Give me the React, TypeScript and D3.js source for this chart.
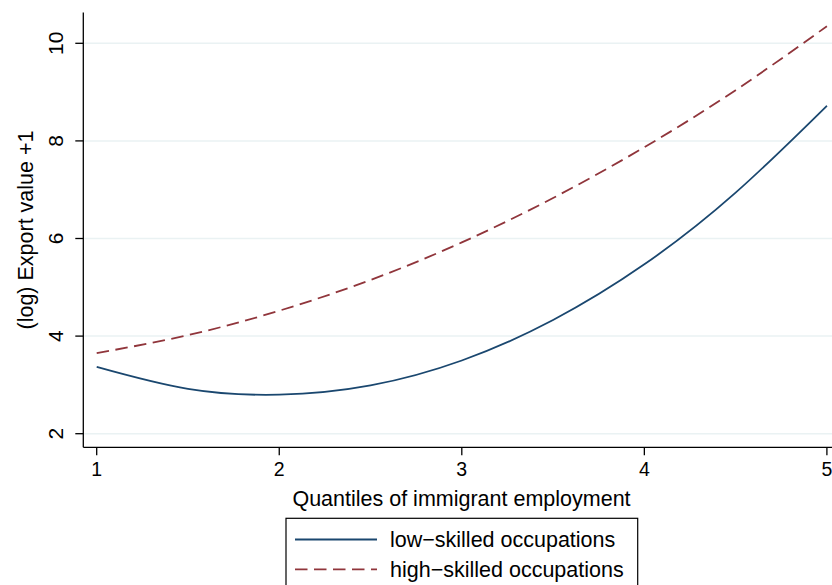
import React from "react";
import * as d3 from "d3";

// Quantiles of immigrant employment (x) and predicted (log) export value +1
const quantiles = [1, 1.5, 2, 2.5, 3, 3.5, 4, 4.5, 5];
const lowSkilled = [3.37, 2.92, 2.8, 2.99, 3.5, 4.33, 5.47, 6.94, 8.72];
const highSkilled = [3.65, 4.02, 4.52, 5.15, 5.92, 6.83, 7.87, 9.04, 10.35];
const xTicks = [1, 2, 3, 4, 5];
const yTicks = [2, 4, 6, 8, 10];
const seriesNames = ["low\u2212skilled occupations", "high\u2212skilled occupations"];

const W = 832;
const H = 585;
const FONT = "'Liberation Sans', Arial, Helvetica, sans-serif";
const NAVY = "#1a476f";
const MAROON = "#90353b";
const DASH = "12.5 6.5";

export default function App() {
  const x = d3.scaleLinear().domain([1, 5]).range([96.7, 826.9]);
  const y = d3.scaleLinear().domain([2, 10]).range([433.7, 43.3]);
  const plotLeft = 83.3;
  const plotBottom = 447.3;
  const plotTop = 12.5;
  const plotRight = 832;

  const line = d3
    .line<[number, number]>()
    .x((d) => x(d[0]))
    .y((d) => y(d[1]))
    .curve(d3.curveNatural);

  const lowData = quantiles.map((q, i) => [q, lowSkilled[i]] as [number, number]);
  const highData = quantiles.map((q, i) => [q, highSkilled[i]] as [number, number]);

  const legendY = [539.5, 569.3];
  const styles = [
    { color: NAVY, dash: undefined as string | undefined },
    { color: MAROON, dash: DASH },
  ];

  return (
    <svg
      width={W}
      height={H}
      style={{ position: "absolute", left: 0, top: 0, background: "#fff" }}
      fontFamily={FONT}
    >
      <rect x={0} y={0} width={W} height={H} fill="#fff" />
      {/* gridlines */}
      {yTicks.map((t) => (
        <line
          key={"g" + t}
          x1={plotLeft + 1}
          x2={plotRight}
          y1={y(t)}
          y2={y(t)}
          stroke="#eaf2f3"
          strokeWidth={1.5}
        />
      ))}
      {/* y axis */}
      <line x1={plotLeft} x2={plotLeft} y1={plotTop} y2={plotBottom} stroke="#000" strokeWidth={1.3} />
      {yTicks.map((t) => (
        <g key={"y" + t}>
          <line x1={plotLeft - 8} x2={plotLeft} y1={y(t)} y2={y(t)} stroke="#000" strokeWidth={1.3} />
          <text
            transform={`translate(${63.3},${y(t)}) rotate(-90)`}
            textAnchor="middle"
            fontSize={21}
            fill="#000"
          >
            {t}
          </text>
        </g>
      ))}
      <text
        transform={`translate(${32.5},${230}) rotate(-90)`}
        textAnchor="middle"
        fontSize={21.5}
        fill="#000"
      >
        (log) Export value +1
      </text>
      {/* x axis */}
      <line x1={plotLeft} x2={plotRight} y1={plotBottom} y2={plotBottom} stroke="#000" strokeWidth={1.3} />
      {xTicks.map((t) => (
        <g key={"x" + t}>
          <line x1={x(t)} x2={x(t)} y1={plotBottom} y2={plotBottom + 8} stroke="#000" strokeWidth={1.3} />
          <text x={x(t)} y={476} textAnchor="middle" fontSize={19.5} fill="#000">
            {t}
          </text>
        </g>
      ))}
      <text x={461.5} y={505.7} textAnchor="middle" fontSize={21.5} fill="#000">
        Quantiles of immigrant employment
      </text>
      {/* curves */}
      <path d={line(lowData) ?? ""} fill="none" stroke={NAVY} strokeWidth={1.8} />
      <path d={line(highData) ?? ""} fill="none" stroke={MAROON} strokeWidth={1.8} strokeDasharray={DASH} />
      {/* legend */}
      <rect x={286} y={518.3} width={351.7} height={80} fill="#fff" stroke="#000" strokeWidth={1.2} />
      {seriesNames.map((name, i) => (
        <g key={name}>
          <line
            x1={295}
            x2={377}
            y1={legendY[i]}
            y2={legendY[i]}
            stroke={styles[i].color}
            strokeWidth={1.8}
            strokeDasharray={styles[i].dash}
          />
          <text x={390} y={legendY[i] + 7.8} fontSize={21.5} fill="#000">
            {name}
          </text>
        </g>
      ))}
    </svg>
  );
}
